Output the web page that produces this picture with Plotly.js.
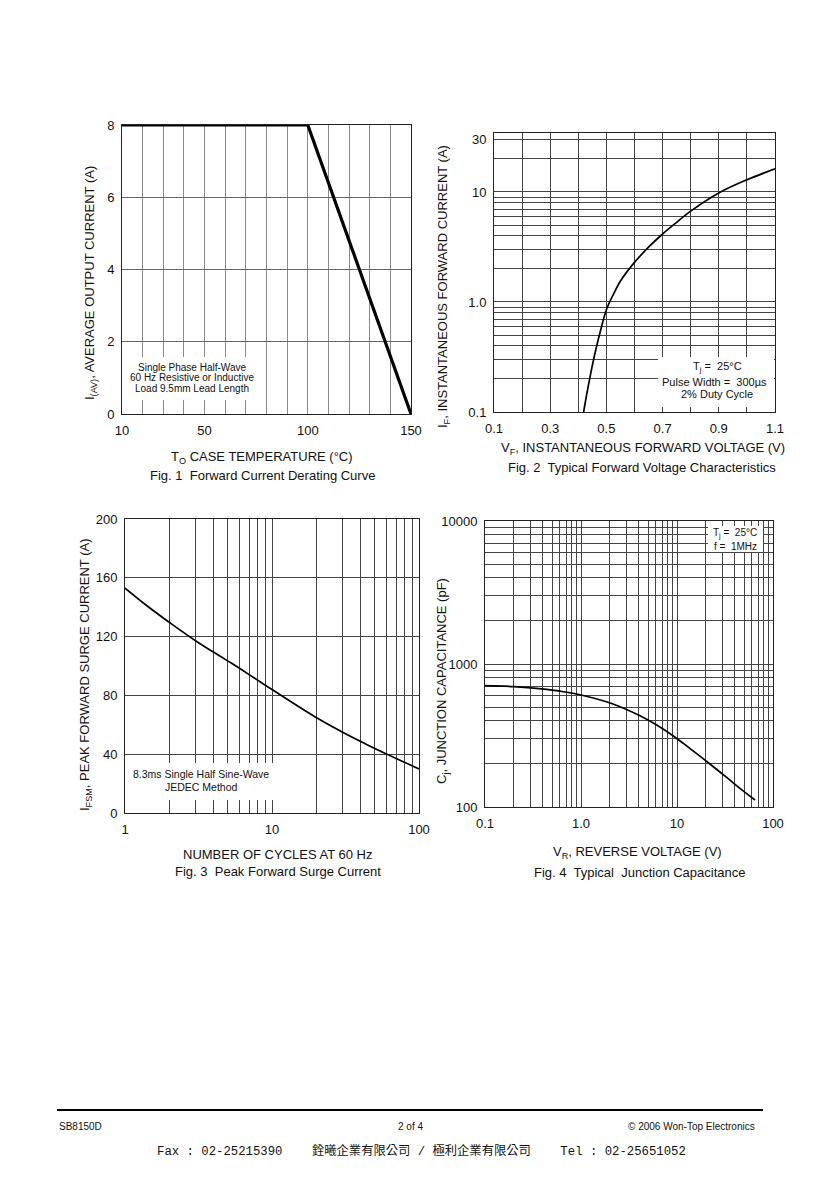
<!DOCTYPE html>
<html>
<head>
<meta charset="utf-8">
<script src="https://cdn.plot.ly/plotly-3.0.1.min.js"></script>
<style>
html,body{margin:0;padding:0;background:#fff;}
#chart{width:840px;height:1189px;}
</style>
</head>
<body>
<div id="chart"></div>
<script>
// ---------- DATA ----------
// Fig. 1 Forward Current Derating Curve
const fig1Temp = [10, 100, 150];
const fig1Current = [8, 8, 0];
const fig1XTicks = [10, 50, 100, 150];
const fig1XGrid = [20, 30, 40, 60, 70, 80, 90, 110, 120, 130, 140];
const fig1YTicks = [0, 2, 4, 6, 8];

// Fig. 2 Typical Forward Voltage Characteristics
const fig2Voltage = [0.419, 0.43, 0.445, 0.46, 0.48, 0.50, 0.525, 0.55, 0.60, 0.65, 0.70, 0.75, 0.80, 0.90, 1.00, 1.10];
const fig2Current = [0.100, 0.145, 0.229, 0.347, 0.562, 0.851, 1.175, 1.55, 2.29, 3.15, 4.15, 5.30, 6.70, 9.80, 12.9, 16.2];
const fig2XTicks = [0.1, 0.3, 0.5, 0.7, 0.9, 1.1];
const fig2XTickText = ['0.1', '0.3', '0.5', '0.7', '0.9', '1.1'];
const fig2XGrid = [0.2, 0.4, 0.6, 0.8, 1.0];
const fig2YTicks = [0.1, 1, 10, 30];
const fig2YTickText = ['0.1', '1.0', '10', '30'];
const fig2YGrid = [0.2, 0.3, 0.4, 0.5, 0.6, 0.7, 0.8, 0.9, 2, 3, 4, 5, 6, 7, 8, 9, 20];

// Fig. 3 Peak Forward Surge Current
const fig3Cycles = [1, 1.41, 2.08, 3.2, 4.38, 5.38, 7.54, 10, 20.4, 30.9, 43.3, 59.1, 100];
const fig3Current = [153, 141, 128.5, 115.5, 107, 101.5, 92, 84, 64.4, 54.4, 47, 40.5, 30];
const fig3XTicks = [1, 10, 100];
const fig3XGrid = [2, 3, 4, 5, 6, 7, 8, 9, 20, 30, 40, 50, 60, 70, 80, 90];
const fig3YTicks = [0, 40, 80, 120, 160, 200];

// Fig. 4 Typical Junction Capacitance
const fig4Voltage = [0.1, 0.2, 0.44, 0.655, 1.0, 2.05, 4.12, 6.14, 9.16, 13.6, 21.2, 32.9, 45.3, 64.9];
const fig4Cap = [705, 695, 665, 640, 607, 531, 434, 374, 314, 257, 204, 161, 135, 112];
const fig4XTicks = [0.1, 1, 10, 100];
const fig4XTickText = ['0.1', '1.0', '10', '100'];
const fig4XGrid = [0.2, 0.3, 0.4, 0.5, 0.6, 0.7, 0.8, 0.9, 2, 3, 4, 5, 6, 7, 8, 9, 20, 30, 40, 50, 60, 70, 80, 90];
const fig4YTicks = [100, 1000, 10000];
const fig4YTickText = ['100', '1000', '10000'];
const fig4YGrid = [200, 300, 400, 500, 600, 700, 800, 900, 2000, 3000, 4000, 5000, 6000, 7000, 8000, 9000];

// ---------- LAYOUT HELPERS ----------
const W = 840, H = 1189;
const FONT = 'Liberation Sans, Arial, sans-serif';
const px = v => v / W;
const py = v => 1 - v / H;
const xd = (a, b) => [px(a), px(b)];
const yd = (top, bottom) => [py(bottom), py(top)];

function axis(extra) {
  return Object.assign({
    showline: true, mirror: true, linecolor: '#222', linewidth: 1,
    showgrid: true, gridcolor: '#444', gridwidth: 1,
    ticks: '', zeroline: false, fixedrange: true,
    tickfont: {family: FONT, size: 13, color: '#111'},
    ticklabelstandoff: 4
  }, extra);
}
function minor(vals, color) {
  return {tickmode: 'array', tickvals: vals, showgrid: true, gridcolor: color || '#444', gridwidth: 1, ticks: ''};
}

const traces = [
  {x: fig1Temp, y: fig1Current, xaxis: 'x', yaxis: 'y', mode: 'lines',
   line: {color: '#000', width: 3.2}, hoverinfo: 'skip', cliponaxis: false},
  {x: fig2Voltage, y: fig2Current, xaxis: 'x2', yaxis: 'y2', mode: 'lines',
   line: {color: '#000', width: 1.7, shape: 'spline', smoothing: 1}, hoverinfo: 'skip'},
  {x: fig3Cycles, y: fig3Current, xaxis: 'x3', yaxis: 'y3', mode: 'lines',
   line: {color: '#000', width: 1.7, shape: 'spline', smoothing: 1}, hoverinfo: 'skip'},
  {x: fig4Voltage, y: fig4Cap, xaxis: 'x4', yaxis: 'y4', mode: 'lines',
   line: {color: '#000', width: 1.7, shape: 'spline', smoothing: 1}, hoverinfo: 'skip'}
];

function txt(x, y, text, opts) {
  return Object.assign({
    xref: 'paper', yref: 'paper', x: px(x), y: py(y), text: text, showarrow: false,
    xanchor: 'center', yanchor: 'middle',
    font: {family: FONT, size: 13, color: '#111'}
  }, opts || {});
}
const small = {family: FONT, size: 10, color: '#111'};
const small3 = {family: FONT, size: 10.5, color: '#111'};
const small2 = {family: FONT, size: 11, color: '#111'};

const annotations = [
  // Fig 1
  txt(90, 283, 'I<sub>(AV)</sub>, AVERAGE OUTPUT CURRENT (A)', {textangle: -90}),
  txt(262, 457, 'T<sub>O</sub> CASE TEMPERATURE (°C)'),
  txt(262, 476, 'Fig. 1  Forward Current Derating Curve'),
  txt(192, 367, 'Single Phase Half-Wave', {font: small}),
  txt(192, 377.7, '60 Hz Resistive or Inductive', {font: small}),
  txt(192, 388, 'Load 9.5mm Lead Length', {font: small}),
  // Fig 2
  txt(443, 287, 'I<sub>F</sub>, INSTANTANEOUS FORWARD CURRENT (A)', {textangle: -90}),
  txt(643, 448, 'V<sub>F</sub>, INSTANTANEOUS FORWARD VOLTAGE (V)'),
  txt(642, 467, 'Fig. 2  Typical Forward Voltage Characteristics'),
  txt(717, 367.3, 'T<sub>j</sub> =  25°C', {font: small2}),
  txt(714, 381.7, 'Pulse Width =  300µs', {font: small2}),
  txt(717, 394.3, '2% Duty Cycle', {font: small2}),
  // Fig 3
  txt(85, 675, 'I<sub>FSM</sub>, PEAK FORWARD SURGE CURRENT (A)', {textangle: -90}),
  txt(278, 854, 'NUMBER OF CYCLES AT 60 Hz'),
  txt(278, 871, 'Fig. 3  Peak Forward Surge Current'),
  txt(201, 774.3, '8.3ms Single Half Sine-Wave', {font: small3}),
  txt(201, 786.7, 'JEDEC Method', {font: small3}),
  // Fig 4
  txt(442, 681, 'C<sub>j</sub>, JUNCTION CAPACITANCE (pF)', {textangle: -90}),
  txt(637, 852, 'V<sub>R</sub>, REVERSE VOLTAGE (V)'),
  txt(640, 872, 'Fig. 4  Typical  Junction Capacitance'),
  txt(759, 533.3, 'T<sub>j</sub> =  25°C', {xanchor: 'right', font: small}),
  txt(759, 546, 'f =  1MHz', {xanchor: 'right', font: small}),
  // Footer
  txt(57, 1126, 'SB8150D', {xanchor: 'left', font: {family: FONT, size: 10, color: '#111'}}),
  txt(410, 1126, '2 of 4', {font: {family: FONT, size: 10, color: '#111'}}),
  txt(757, 1126, '© 2006 Won-Top Electronics', {xanchor: 'right', font: {family: FONT, size: 10, color: '#111'}}),
  txt(421, 1151, 'Fax : 02-25215390    銓曦企業有限公司 / 極利企業有限公司    Tel : 02-25651052',
      {font: {family: 'Liberation Mono, Noto Sans CJK TC, monospace', size: 12.3, color: '#111'}})
];

function whiteBox(x0, y0, x1, y1) {
  return {type: 'rect', xref: 'paper', yref: 'paper', x0: px(x0), x1: px(x1), y0: py(y1), y1: py(y0),
          fillcolor: '#fff', line: {width: 0}, layer: 'above'};
}

const layout = {
  width: W, height: H,
  margin: {l: 0, r: 0, t: 0, b: 0},
  paper_bgcolor: '#fff', plot_bgcolor: '#fff',
  showlegend: false,
  font: {family: FONT, color: '#111'},
  xaxis: axis({domain: xd(122, 411), anchor: 'y', range: [10, 150], tickvals: fig1XTicks,
               gridcolor: '#8a8a8a', minor: minor(fig1XGrid, '#8a8a8a')}),
  yaxis: axis({domain: yd(125, 414), anchor: 'x', range: [0, 8], tickvals: fig1YTicks, gridcolor: '#666'}),
  xaxis2: axis({domain: xd(494, 775), anchor: 'y2', range: [0.1, 1.1], tickvals: fig2XTicks, ticktext: fig2XTickText,
                minor: minor(fig2XGrid)}),
  yaxis2: axis({domain: yd(133, 412), anchor: 'x2', type: 'log', range: [-1, 1.536],
                tickvals: fig2YTicks, ticktext: fig2YTickText, minor: minor(fig2YGrid)}),
  xaxis3: axis({domain: xd(125, 419), anchor: 'y3', type: 'log', range: [0, 2], tickvals: fig3XTicks,
                minor: minor(fig3XGrid)}),
  yaxis3: axis({domain: yd(519, 813), anchor: 'x3', range: [0, 200], tickvals: fig3YTicks}),
  xaxis4: axis({domain: xd(485, 773), anchor: 'y4', type: 'log', range: [-1, 2], tickvals: fig4XTicks, ticktext: fig4XTickText,
                minor: minor(fig4XGrid)}),
  yaxis4: axis({domain: yd(521, 807), anchor: 'x4', type: 'log', range: [2, 4], tickvals: fig4YTicks, ticktext: fig4YTickText,
                minor: minor(fig4YGrid)}),
  annotations: annotations,
  shapes: [
    whiteBox(124, 357, 256, 400),
    whiteBox(658, 357, 774, 407),
    whiteBox(127, 763, 273, 800),
    whiteBox(708, 526, 763, 552),
    {type: 'line', xref: 'paper', yref: 'paper', x0: px(57), x1: px(763), y0: py(1110), y1: py(1110),
     line: {color: '#000', width: 2}}
  ]
};

Plotly.newPlot('chart', traces, layout, {staticPlot: true, displayModeBar: false});
</script>
</body>
</html>
